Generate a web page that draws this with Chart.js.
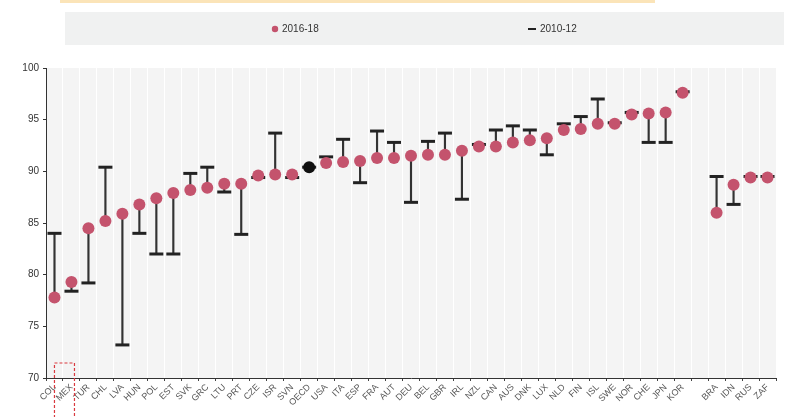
<!DOCTYPE html>
<html>
<head>
<meta charset="utf-8">
<style>
  html, body { margin: 0; padding: 0; background: #ffffff; }
  #wrap { width: 786px; height: 417px; position: relative; }
</style>
<script src="https://cdn.jsdelivr.net/npm/chart.js@4.4.1/dist/chart.umd.min.js"></script>
</head>
<body>
<div id="wrap"><canvas id="chart" width="786" height="417"></canvas></div>
<script>
'use strict';

/* ── DATA ── */
const countries = [
  'COL','MEX','TUR','CHL','LVA','HUN','POL','EST','SVK','GRC',
  'LTU','PRT','CZE','ISR','SVN','OECD','USA','ITA','ESP','FRA',
  'AUT','DEU','BEL','GBR','IRL','NZL','CAN','AUS','DNK','LUX',
  'NLD','FIN','ISL','SWE','NOR','CHE','JPN','KOR','',
  'BRA','IDN','RUS','ZAF'
];
const recent = [   // 2016-18
  77.8, 79.3, 84.5, 85.2, 85.9, 86.8, 87.4, 87.9, 88.2, 88.4,
  88.8, 88.8, 89.6, 89.7, 89.7, 90.4, 90.8, 90.9, 91.0, 91.3,
  91.3, 91.5, 91.6, 91.6, 92.0, 92.4, 92.4, 92.8, 93.0, 93.2,
  94.0, 94.1, 94.6, 94.6, 95.5, 95.6, 95.7, 97.6, null,
  86.0, 88.7, 89.4, 89.4
];
const earlier = [  // 2010-12
  84.0, 78.4, 79.2, 90.4, 73.2, 84.0, 82.0, 82.0, 89.8, 90.4,
  88.0, 83.9, 89.4, 93.7, 89.4, 90.4, 91.4, 93.1, 88.9, 93.9,
  92.8, 87.0, 92.9, 93.7, 87.3, 92.6, 94.0, 94.4, 94.0, 91.6,
  94.6, 95.3, 97.0, 94.7, 95.7, 92.8, 92.8, 97.7, null,
  89.5, 86.8, 89.5, 89.5
];
const yTicks = [70, 75, 80, 85, 90, 95, 100];
const seriesNames = ['2016-18', '2010-12'];
const highlightIndex = 1;
const averageLabel = 'OECD';

/* ── STYLE ── */
const PINK = '#c4536d';
const INK = '#222222';
const FONT = "'Liberation Sans Narrow', 'Arial Narrow', 'Liberation Sans', sans-serif";

const whiskers = recent.map((v, i) => (v == null || earlier[i] == null) ? null : [v, earlier[i]]);
const dotColors = countries.map(c => c === averageLabel ? '#111111' : PINK);

/* ── PLUGINS ── */
const backdrop = {
  id: 'backdrop',
  beforeDraw(chart) {
    const { ctx, chartArea: a } = chart;
    ctx.save();
    // thin header rule
    ctx.fillStyle = '#fbe4b8';
    ctx.fillRect(60, 0, 595, 3);
    // plot background
    ctx.fillStyle = '#f4f4f4';
    ctx.fillRect(a.left, a.top, a.right - a.left, a.bottom - a.top);
    // legend band
    ctx.fillStyle = '#f0f1f1';
    ctx.fillRect(65, 12, 719, 33);
    ctx.font = '10px ' + FONT;
    ctx.textBaseline = 'middle';
    ctx.fillStyle = INK;
    ctx.fillStyle = PINK;
    ctx.beginPath();
    ctx.arc(275, 29, 3.2, 0, Math.PI * 2);
    ctx.fill();
    ctx.fillStyle = '#333';
    ctx.fillText(seriesNames[0], 282, 29);
    ctx.strokeStyle = INK;
    ctx.lineWidth = 2;
    ctx.beginPath();
    ctx.moveTo(528, 29);
    ctx.lineTo(536, 29);
    ctx.stroke();
    ctx.fillText(seriesNames[1], 540, 29);
    ctx.restore();
  }
};

const highlight = {
  id: 'highlight',
  afterDraw(chart) {
    const { ctx } = chart;
    const x = chart.scales.x.getPixelForValue(highlightIndex);
    ctx.save();
    ctx.strokeStyle = '#d9393f';
    ctx.lineWidth = 1.2;
    ctx.setLineDash([3, 2]);
    ctx.strokeRect(x - 17, 363, 20, 60);
    ctx.restore();
  }
};

/* ── CHART ── */
new Chart(document.getElementById('chart'), {
  type: 'bar',
  data: {
    labels: countries,
    datasets: [
      {
        type: 'line',
        label: seriesNames[0],
        data: recent,
        showLine: false,
        pointStyle: 'circle',
        pointRadius: 6,
        pointBorderWidth: 0,
        pointBackgroundColor: dotColors,
        order: 0,
      },
      {
        type: 'line',
        label: seriesNames[1],
        data: earlier,
        showLine: false,
        pointStyle: 'line',
        pointRadius: 7,
        pointBorderWidth: 3,
        pointBorderColor: INK,
        order: 1,
      },
      {
        type: 'bar',
        label: 'range',
        data: whiskers,
        backgroundColor: '#333333',
        barThickness: 1.5,
        grouped: false,
        order: 2,
      },
    ],
  },
  options: {
    responsive: false,
    animation: false,
    layout: { padding: { top: 68, right: 4, left: 0, bottom: 0 } },
    plugins: {
      legend: { display: false },
      tooltip: { enabled: false },
    },
    scales: {
      x: {
        offset: true,
        grid: { color: '#ffffff', lineWidth: 1, tickColor: '#444444', tickLength: 3 },
        border: { color: '#333333', width: 1 },
        ticks: {
          autoSkip: false,
          minRotation: 45,
          maxRotation: 45,
          padding: 1,
          color: '#555555',
          font: { size: 9, family: FONT },
        },
        afterFit(scale) { scale.height = 39; },
      },
      y: {
        min: yTicks[0],
        max: yTicks[yTicks.length - 1],
        afterBuildTicks(scale) { scale.ticks = yTicks.map(v => ({ value: v })); },
        grid: { drawOnChartArea: false, tickColor: '#333333', tickLength: 3 },
        border: { color: '#333333', width: 1 },
        ticks: {
          color: '#333333',
          padding: 4,
          font: { size: 10, family: FONT },
        },
        afterFit(scale) { scale.width = 46; },
      },
    },
  },
  plugins: [backdrop, highlight],
});
</script>
</body>
</html>
